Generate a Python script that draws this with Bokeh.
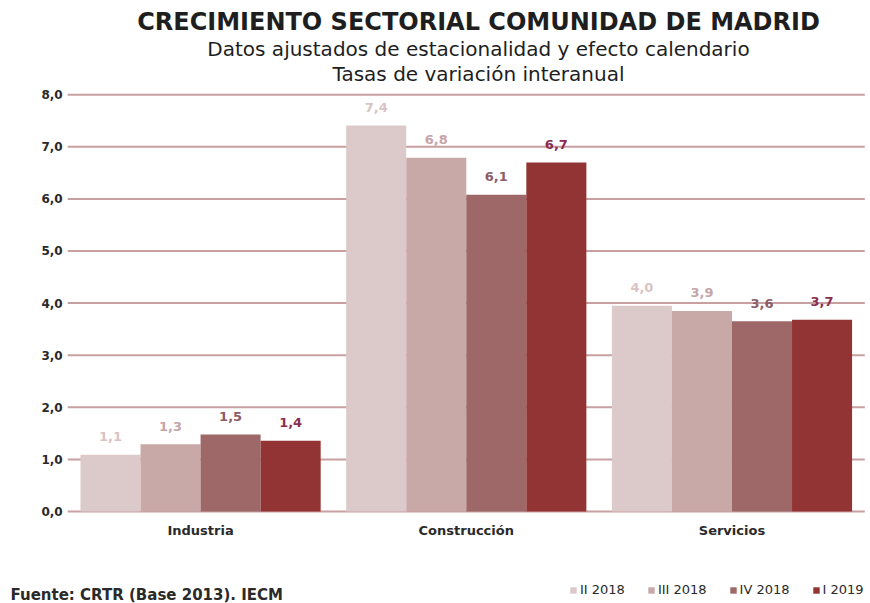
from bokeh.plotting import figure
from bokeh.models import (Range1d, ColumnDataSource, Label, Legend, LegendItem,
                          CustomJSTickFormatter, FixedTicker)
from bokeh.core.properties import value
from bokeh.embed import file_html
from bokeh.resources import INLINE

categories = ["Industria", "Construcción", "Servicios"]
series = ["II 2018", "III 2018", "IV 2018", "I 2019"]
ii_2018 = [1.09, 7.41, 3.95]
iii_2018 = [1.29, 6.79, 3.85]
iv_2018 = [1.48, 6.08, 3.65]
i_2019 = [1.36, 6.70, 3.68]
lab_ii_2018 = ["1,1", "7,4", "4,0"]
lab_iii_2018 = ["1,3", "6,8", "3,9"]
lab_iv_2018 = ["1,5", "6,1", "3,6"]
lab_i_2019 = ["1,4", "6,7", "3,7"]
y_ticks = [0, 1, 2, 3, 4, 5, 6, 7, 8]

title = "CRECIMIENTO SECTORIAL COMUNIDAD DE MADRID"
subtitle1 = "Datos ajustados de estacionalidad y efecto calendario"
subtitle2 = "Tasas de variación interanual"
source_note = "Fuente: CRTR (Base 2013). IECM"

bar_colors = ["#dcc9c9", "#c9a8a8", "#9e6868", "#933434"]
label_colors = ["#d9c3c4", "#c6a5a8", "#8c5c68", "#8b2d4f"]
offsets = [-0.339, -0.113, 0.113, 0.339]
bar_width = 0.226
FONT = "DejaVu Sans"
W, H = 870, 603

# layout: the plotting frame covers the whole canvas; axes are pinned inside it
n = len(categories)
cat_centers = [i + 0.5 for i in range(n)]
x_lo = -0.253
x_hi = x_lo + W / 265.7
y_lo, y_hi = -1.766, 9.808

series_values = [ii_2018, iii_2018, iv_2018, i_2019]
series_labels = [lab_ii_2018, lab_iii_2018, lab_iv_2018, lab_i_2019]
data = {"xc": cat_centers}
for i in range(4):
    data[f"x{i}"] = [c + offsets[i] for c in cat_centers]
    data[f"s{i}"] = series_values[i]
    data[f"l{i}"] = series_labels[i]
src = ColumnDataSource(data)

p = figure(x_range=Range1d(x_lo, x_hi), y_range=Range1d(y_lo, y_hi),
           width=W, height=H, output_backend="svg", toolbar_location=None,
           min_border=0, min_border_left=0, min_border_right=0,
           min_border_top=0, min_border_bottom=0)
p.outline_line_color = None
p.background_fill_color = "white"
p.border_fill_color = "white"
p.grid.visible = False

# horizontal reference lines at the y ticks, spanning the category area
p.segment(x0=0, x1=n, y0=y_ticks, y1=y_ticks, line_color="#c9a0a2", line_width=2)

xa, ya = p.xaxis[0], p.yaxis[0]
ya.fixed_location = 0
ya.ticker = FixedTicker(ticks=y_ticks)
ya.formatter = CustomJSTickFormatter(code="return tick.toFixed(1).replace('.', ',');")
xa.fixed_location = 0
xa.ticker = FixedTicker(ticks=cat_centers)
xa.major_label_overrides = {c: name for c, name in zip(cat_centers, categories)}
for ax in (xa, ya):
    ax.axis_line_color = None
    ax.major_tick_line_color = None
    ax.minor_tick_line_color = None
    ax.major_tick_out = 0
    ax.major_tick_in = 0
    ax.minor_tick_out = 0
    ax.minor_tick_in = 0
    ax.major_label_text_font = FONT
    ax.major_label_text_color = "#2a2a2a"
    ax.major_label_text_font_style = "bold"
ya.major_label_text_font_size = "12px"
ya.major_label_standoff = 5
xa.major_label_text_font_size = "13px"
xa.major_label_standoff = 12

renderers = []
for i in range(4):
    r = p.vbar(x=f"x{i}", top=f"s{i}", width=bar_width, source=src,
               fill_color=bar_colors[i], line_color=None)
    renderers.append(r)
    p.text(x=f"x{i}", y=f"s{i}", text=f"l{i}", source=src,
           text_align="center", text_baseline="middle", y_offset=-18,
           text_font=value(FONT), text_font_size="13px", text_font_style="bold",
           text_color=label_colors[i])


def add_text(txt, px, py, size, style="normal", align="center", color="#1e1e1e"):
    # px, py: canvas pixels from the top-left corner
    p.add_layout(Label(x=px, y=H - py, x_units="screen", y_units="screen",
                       text=txt, text_align=align, text_baseline="middle",
                       text_font=FONT, text_font_size=size, text_font_style=style,
                       text_color=color))


add_text(title, 478, 21, "24px", "bold")
add_text(subtitle1, 478, 48, "20px")
add_text(subtitle2, 478, 73, "20px")
add_text(source_note, 10, 594, "15px", "bold", align="left", color="#2a2a2a")

legend = Legend(items=[LegendItem(label=series[i], renderers=[renderers[i]]) for i in range(4)],
                orientation="horizontal", location=(569, H - 597),
                glyph_width=8, glyph_height=8, label_height=13, label_standoff=3,
                spacing=22, padding=0, margin=0, border_line_color=None,
                background_fill_alpha=0, label_text_font=FONT,
                label_text_font_size="13px", label_text_color="#2a2a2a")
p.add_layout(legend)

open("out.html", "w").write(file_html(p, INLINE))
